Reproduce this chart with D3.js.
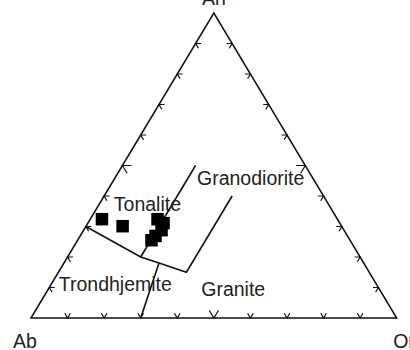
<!DOCTYPE html>
<html>
<head>
<meta charset="utf-8">
<script src="https://cdn.jsdelivr.net/npm/d3@7"></script>
<style>
  body { margin: 0; background: #fff; }
  svg { display: block; }
  .label { font-family: "Liberation Sans", Arial, sans-serif; font-size: 19.5px; fill: #222; }
</style>
</head>
<body>
<svg id="chart"></svg>
<script>
// sample compositions (normative An - Ab - Or, in %)
const sampleAn = [32.4, 30.1, 32.4, 31.1, 28.8, 26.9, 25.5];
const sampleAb = [64.4, 59.9, 49.2, 48.2, 49.9, 52.5, 54.3];
const sampleOr = [3.2, 10.0, 18.4, 20.7, 21.3, 20.6, 20.2];

// field boundaries, each point is [An, Or]
const tonaliteTrondhjemite = [[30, 0], [25, 10], [20, 20], [18, 26], [15, 35], [40, 35]];
const tonaliteGranodiorite = [[50, 20], [20, 20]];
const trondhjemiteGranite = [[0, 30], [18, 26]];

const vertexNames = ['An', 'Ab', 'Or'];
const fieldNames = ['Tonalite', 'Granodiorite', 'Trondhjemite', 'Granite'];
const tickValues = [10, 20, 30, 40, 50, 60, 70, 80, 90];

class TernaryPlot {
    constructor(_config){
        this.config = {
            parentElement: _config.parentElement,
            containerWidth: _config.containerWidth || 410,
            containerHeight: _config.containerHeight || 350
        }
        this.initVis();
    }

    initVis(){
        let vis = this;

        vis.svg = d3.select(vis.config.parentElement)
            .attr('width', vis.config.containerWidth)
            .attr('height', vis.config.containerHeight);

        // horizontal position comes from Or + An/2, vertical from An
        vis.xScale = d3.scaleLinear().domain([0, 100]).range([31, 396.7]);
        vis.yScale = d3.scaleLinear().domain([0, 100]).range([318, 13]);

        vis.pt = (an, or) => [vis.xScale(or + an / 2), vis.yScale(an)];

        vis.line = d3.line()
            .x(d => vis.pt(d[0], d[1])[0])
            .y(d => vis.pt(d[0], d[1])[1]);

        vis.updateVis();
    }

    updateVis(){
        let vis = this;

        const An = vis.pt(100, 0), Ab = vis.pt(0, 0), Or = vis.pt(0, 100);

        // outline
        vis.svg.append('path')
            .attr('d', `M${Ab}L${An}L${Or}Z`)
            .attr('fill', 'none')
            .attr('stroke', '#111')
            .attr('stroke-width', 1.5)
            .attr('stroke-linejoin', 'miter');

        // chevron ticks: arms run parallel to the two other sides
        const edges = [
            {from: d => vis.pt(0, d), dirs: [[An, Ab], [An, Or]]},      // base Ab-Or
            {from: d => vis.pt(d, 0), dirs: [[Or, Ab], [Or, An]]},      // left Ab-An
            {from: d => vis.pt(d, 100 - d), dirs: [[Ab, Or], [Ab, An]]} // right Or-An
        ];
        const unit = (a, b) => {
            const dx = a[0] - b[0], dy = a[1] - b[1];
            const l = Math.hypot(dx, dy);
            return [dx / l, dy / l];
        };

        edges.forEach(e => {
            tickValues.forEach(v => {
                const p = e.from(v);
                const len = v === 50 ? 9 : 5.5;
                const dirs = e.dirs.map(pair => unit(pair[0], pair[1]));
                vis.svg.append('path')
                    .attr('d', `M${p[0] + dirs[0][0] * len},${p[1] + dirs[0][1] * len}L${p[0]},${p[1]}L${p[0] + dirs[1][0] * len},${p[1] + dirs[1][1] * len}`)
                    .attr('fill', 'none')
                    .attr('stroke', '#111')
                    .attr('stroke-width', 1.2);
            });
        });

        // field boundaries
        vis.svg.selectAll('.boundary')
            .data([tonaliteTrondhjemite, tonaliteGranodiorite, trondhjemiteGranite])
          .join('path')
            .attr('class', 'boundary')
            .attr('d', vis.line)
            .attr('fill', 'none')
            .attr('stroke', '#111')
            .attr('stroke-width', 1.6);

        // samples
        const samples = sampleAn.map((a, i) => ({an: a, ab: sampleAb[i], or: sampleOr[i]}));
        const size = 12.5;
        vis.svg.selectAll('.sample')
            .data(samples)
          .join('rect')
            .attr('class', 'sample')
            .attr('x', d => vis.pt(d.an, d.or)[0] - size / 2)
            .attr('y', d => vis.pt(d.an, d.or)[1] - size / 2)
            .attr('width', size)
            .attr('height', size)
            .attr('fill', '#000');

        // field names, anchored at ternary positions [An, Or]
        const fieldPos = [[35.1, 5.1], [43.6, 23.6], [8.8, 3.2], [7.1, 43.0]];
        vis.svg.selectAll('.field')
            .data(fieldNames)
          .join('text')
            .attr('class', 'label field')
            .attr('x', (d, i) => vis.pt(fieldPos[i][0], fieldPos[i][1])[0])
            .attr('y', (d, i) => vis.pt(fieldPos[i][0], fieldPos[i][1])[1])
            .text(d => d);

        // vertex names
        vis.svg.append('text').attr('class', 'label')
            .attr('x', An[0]).attr('y', An[1] - 8)
            .attr('text-anchor', 'middle')
            .text(vertexNames[0]);
        vis.svg.append('text').attr('class', 'label')
            .attr('x', Ab[0] - 18).attr('y', Ab[1] + 30)
            .text(vertexNames[1]);
        vis.svg.append('text').attr('class', 'label')
            .attr('x', Or[0] - 3.5).attr('y', Or[1] + 30)
            .text(vertexNames[2]);
    }
}

new TernaryPlot({parentElement: '#chart'});
</script>
</body>
</html>
